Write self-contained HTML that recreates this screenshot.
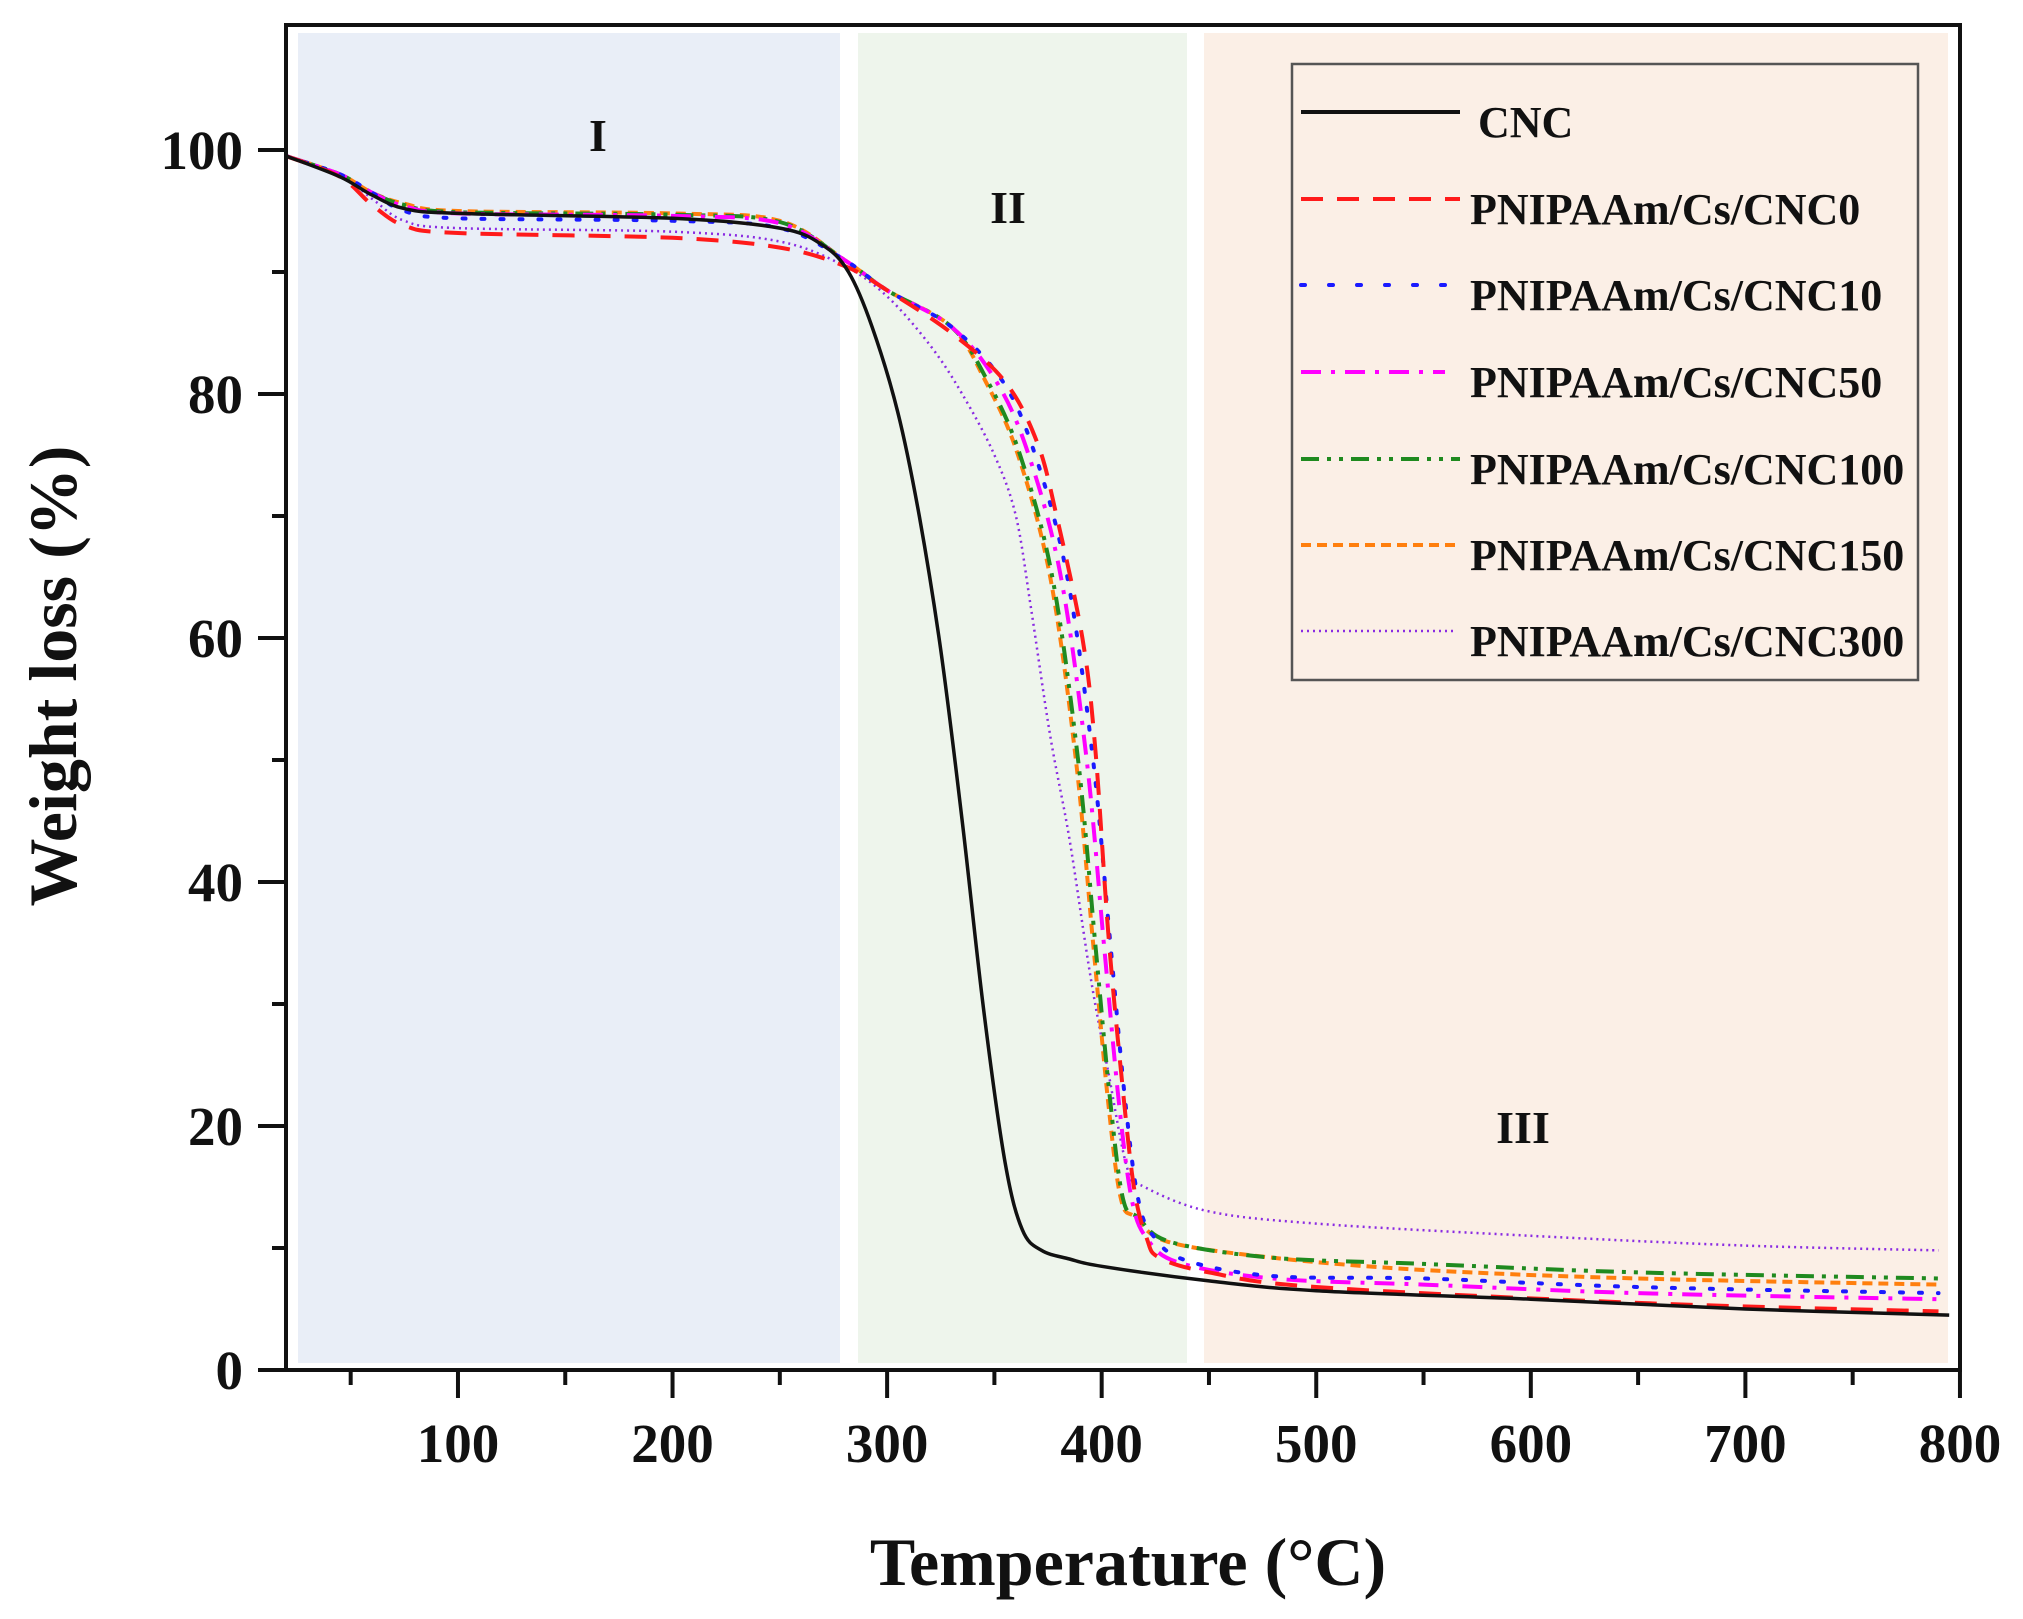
<!DOCTYPE html>
<html><head><meta charset="utf-8"><style>
html,body{margin:0;padding:0;background:#fff;}
svg{display:block;font-family:"Liberation Serif",serif;font-weight:bold;}
</style></head><body>
<svg id="s" width="2023" height="1619" viewBox="0 0 2023 1619" xmlns="http://www.w3.org/2000/svg">
<rect x="0" y="0" width="2023" height="1619" fill="#fff"/>
<rect x="298" y="33" width="542" height="1330" fill="#e9eef7"/>
<rect x="858" y="33" width="329" height="1330" fill="#eef5ec"/>
<rect x="1204" y="33" width="744" height="1330" fill="#fbefe6"/>
<g font-size="46" text-anchor="middle" fill="#111">
<text x="598" y="151">I</text>
<text x="1008" y="223">II</text>
<text x="1523" y="1143">III</text>
</g>
<g id="curves" fill="none" stroke-linejoin="round"></g>
<rect x="1292" y="64" width="626" height="616" fill="#fbefe6" stroke="#555" stroke-width="2.5"/>
<g stroke-width="4">
<line x1="1301" y1="112" x2="1460" y2="112" stroke="#111"/>
<line x1="1301" y1="199" x2="1460" y2="199" stroke="#ff1a1a" stroke-dasharray="22,14"/>
<line x1="1301" y1="285" x2="1450" y2="285" stroke="#1a1aff" stroke-dasharray="4,24" stroke-linecap="round"/>
<line x1="1301" y1="372" x2="1445" y2="372" stroke="#ff00ff" stroke-dasharray="20,10,4,10"/>
<line x1="1301" y1="459" x2="1460" y2="459" stroke="#1f8a1f" stroke-dasharray="18,8,4,8,4,8"/>
<line x1="1301" y1="545" x2="1460" y2="545" stroke="#ff7f0e" stroke-dasharray="10,6"/>
<line x1="1301" y1="631" x2="1455" y2="631" stroke="#8a2be2" stroke-width="2.5" stroke-dasharray="2,4"/>
</g>
<g font-size="44" fill="#111">
<text x="1478" y="137">CNC</text>
<text x="1470" y="224">PNIPAAm/Cs/CNC0</text>
<text x="1470" y="310">PNIPAAm/Cs/CNC10</text>
<text x="1470" y="397">PNIPAAm/Cs/CNC50</text>
<text x="1470" y="484">PNIPAAm/Cs/CNC100</text>
<text x="1470" y="570">PNIPAAm/Cs/CNC150</text>
<text x="1470" y="656">PNIPAAm/Cs/CNC300</text>
</g>
<g stroke="#111" stroke-width="4" fill="none">
<rect x="286" y="25" width="1674" height="1345"/>
</g>
<g id="ticks" stroke="#111" stroke-width="4"></g>
<g font-size="55" fill="#111" text-anchor="end" id="ylab"></g>
<g font-size="55" fill="#111" text-anchor="middle" id="xlab"></g>
<text x="1128" y="1585" font-size="68" text-anchor="middle" fill="#111">Temperature (°C)</text>
<text transform="translate(76,676) rotate(-90)" font-size="68" text-anchor="middle" fill="#111">Weight loss (%)</text>
</svg>
<script>
var NS="http://www.w3.org/2000/svg";
function X(t){return 243.4+2.1457*t;}
function Y(v){return 1370-12.2*v;}
function el(p,tag,a,txt){var e=document.createElementNS(NS,tag);for(var k in a)e.setAttribute(k,a[k]);if(txt!=null)e.textContent=txt;p.appendChild(e);return e;}
var tk=document.getElementById('ticks'),yl=document.getElementById('ylab'),xl=document.getElementById('xlab');
for(var t=50;t<=800;t+=50){var maj=t%100==0;el(tk,'line',{x1:X(t),x2:X(t),y1:1370,y2:1370+(maj?28:15)});if(maj)el(xl,'text',{x:X(t),y:1462},String(t));}
for(var v=0;v<=100;v+=10){var maj=v%20==0;el(tk,'line',{x1:286,x2:286-(maj?28:14),y1:Y(v),y2:Y(v)});if(maj)el(yl,'text',{x:243,y:Y(v)+19},String(v));}
function path(pts){var P=pts.map(function(p){return [X(p[0]),Y(p[1])];});var d="M"+P[0][0]+","+P[0][1];
for(var i=0;i<P.length-1;i++){var p0=P[i-1]||P[i],p1=P[i],p2=P[i+1],p3=P[i+2]||p2;
var c1=[p1[0]+(p2[0]-p0[0])/6,p1[1]+(p2[1]-p0[1])/6],c2=[p2[0]-(p3[0]-p1[0])/6,p2[1]-(p3[1]-p1[1])/6];
d+=" C"+c1[0].toFixed(1)+","+c1[1].toFixed(1)+" "+c2[0].toFixed(1)+","+c2[1].toFixed(1)+" "+p2[0].toFixed(1)+","+p2[1].toFixed(1);}return d;}
function comp(pl,shift,tail,end){return [[20,99.5],[45,98],[60,96.5],[75,pl+0.8],[100,pl+0.2],[200,pl],[250,pl-0.6],[280,91],[300,88.5],[330,85.5],[350+shift,81],[365+shift,75],[380+shift,65],[392+shift,50],[400+shift,35],[407+shift,22],[413+shift,14],[420+shift,tail+2],[435+shift,tail],[480,tail-1.3],[550,end+1.2],[650,end+0.5],[790,end]];}
var series=[
 {c:"#8a2be2",w:2.5,d:"2,4",p:[[20,99.5],[45,98],[60,96],[75,94.2],[100,93.6],[200,93.3],[250,92.5],[280,90.5],[300,88],[320,84],[335,80],[350,75],[360,70],[367,62.5],[376,52],[385,43.5],[395,32],[403,24.5],[412,16.5],[420,15],[450,13],[500,12],[600,11],[700,10.2],[790,9.8]]},
 {c:"#ff7f0e",w:4,d:"10,6",p:comp(94.8,-4,10.5,7)},
 {c:"#1f8a1f",w:4,d:"18,8,4,8,4,8",p:comp(94.7,-3,10.5,7.5)},
 {c:"#ff00ff",w:4,d:"20,10,4,10",p:comp(94.6,1,8.8,5.8)},
 {c:"#1a1aff",w:4,d:"3,16",cap:"round",p:comp(94.2,4,9,6.3)},
 {c:"#ff1a1a",w:4,d:"22,14",p:[[20,99.5],[45,97.8],[60,95.5],[75,93.8],[100,93.2],[200,92.8],[250,92],[280,90.5],[300,88.5],[330,85],[355,81],[370,76],[379,70],[391,60],[397,51],[403,36],[409,24.5],[415,15],[421,10.8],[427,9.2],[450,8],[500,6.8],[650,5.5],[790,4.8]]},
 {c:"#111",w:3.5,d:"",p:[[20,99.5],[45,97.8],[60,96.3],[75,95.2],[100,94.8],[200,94.4],[250,93.6],[270,92.2],[282,90],[293,85.5],[305,78.5],[315,70],[325,59],[335,45],[345,29.5],[355,17],[363,11.5],[372,9.8],[385,9.1],[400,8.5],[450,7.3],[500,6.5],[600,5.8],[700,5],[795,4.5]]}
];
var g=document.getElementById('curves');
series.forEach(function(s){var a={d:path(s.p),stroke:s.c,"stroke-width":s.w};if(s.d)a["stroke-dasharray"]=s.d;if(s.cap)a["stroke-linecap"]=s.cap;el(g,'path',a);});
</script>
</body></html>
